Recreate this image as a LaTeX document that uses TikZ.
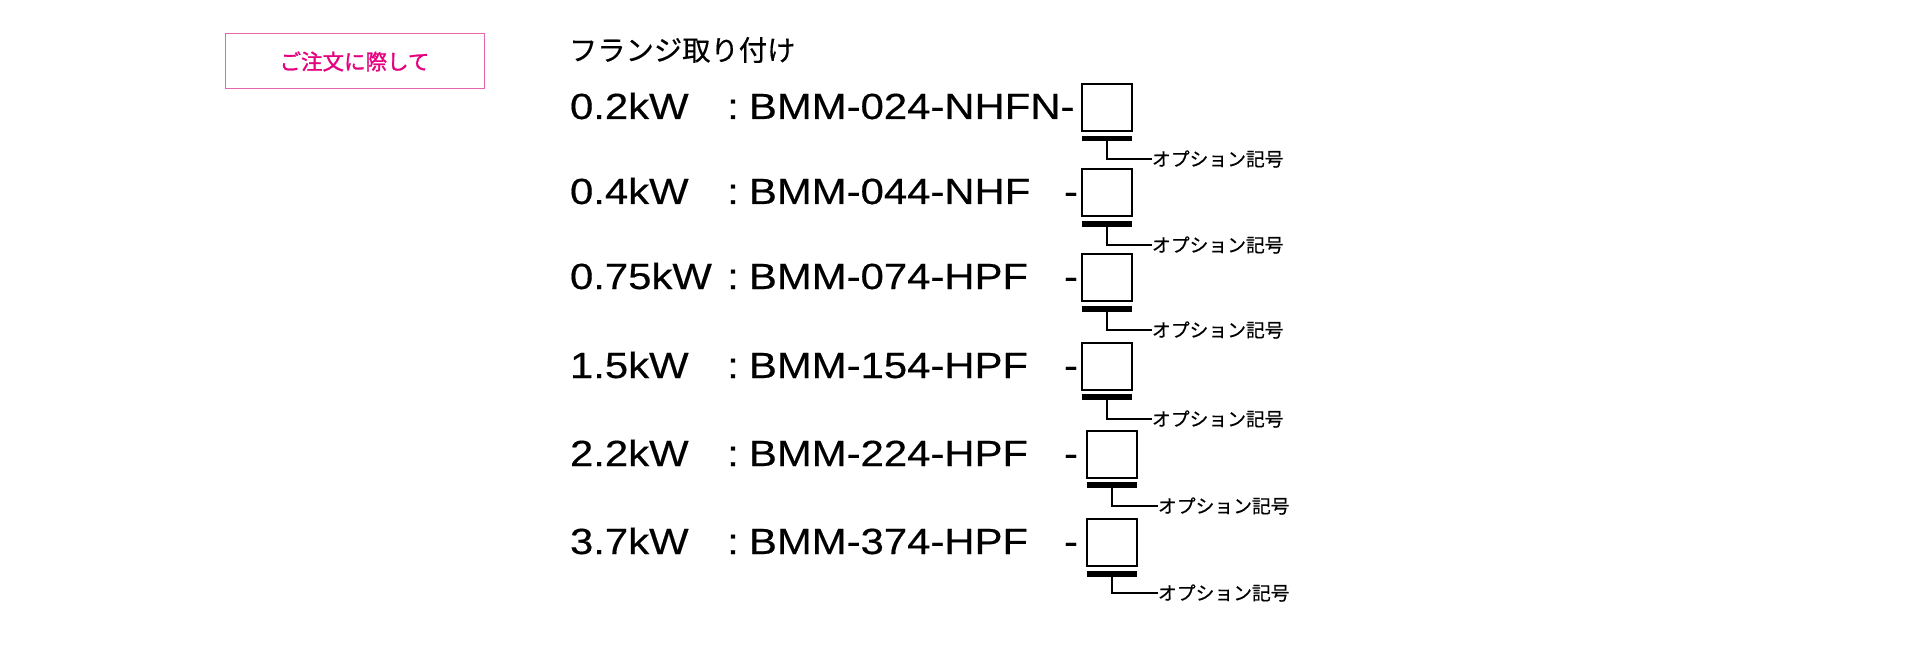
\documentclass[tikz,border=0pt]{standalone}
\usepackage{fontspec}
\setmainfont{Liberation Sans}
\newfontfamily\rowfont[FakeStretch=1.15,FakeBold=0.4]{Liberation Sans}
\newfontfamily\jpfont[FakeBold=0.4]{Noto Sans CJK JP}
\newfontfamily\jpbold[FakeBold=1.2]{Noto Sans CJK JP}
\definecolor{pinktext}{HTML}{E4007F}
\definecolor{pinkline}{HTML}{E565AE}
\begin{document}
\begin{tikzpicture}[x=1pt,y=-1pt,
  every node/.style={inner sep=0pt, outer sep=0pt},
  rowtext/.style={font=\rowfont\fontsize{36.4}{40}\selectfont, anchor=base west},
  coltext/.style={font=\rowfont\fontsize{36.4}{40}\selectfont, anchor=base},
  optbox/.style={draw, line width=1.5pt, minimum width=50pt, minimum height=47pt, anchor=north west},
  optbar/.style={fill=black, minimum width=50pt, minimum height=5.5pt, anchor=north west},
  optlabel/.style={font=\jpfont\fontsize{18.8}{20}\selectfont, anchor=west},
  leader/.style={line width=1.3pt}
]
\useasboundingbox (0,0) rectangle (1920,650);
\fill[white] (0,0) rectangle (1920,650);

% order box
\node[draw=pinkline, line width=1pt, minimum width=259pt, minimum height=55pt,
      font=\jpbold\fontsize{21.5}{24}\selectfont, text=pinktext] (order) at (354.5,61.5) {ご注文に際して};

% title
\node[anchor=west, font=\jpfont\fontsize{28.3}{30}\selectfont] (title) at (569,50) {フランジ取り付け};

% row 1
\node[rowtext] (kw1) at (570,119) {0.2kW};
\node[coltext] (c1) at (733,119) {:};
\node[rowtext] (m1) at (749,119) {BMM-024-NHFN-};
\node[optbox] (b1) at (1082,84) {};
\node[optbar] (r1) at (1082,136) {};
\node[optlabel] (l1) at (1152,159) {オプション記号};
\draw[leader] (r1.south) |- (l1.west);

% row 2
\node[rowtext] (kw2) at (570,204) {0.4kW};
\node[coltext] (c2) at (733,204) {:};
\node[rowtext] (m2) at (749,204) {BMM-044-NHF};
\node[coltext] (d2) at (1071,204) {-};
\node[optbox] (b2) at (1082,169) {};
\node[optbar] (r2) at (1082,221) {};
\node[optlabel] (l2) at (1152,245) {オプション記号};
\draw[leader] (r2.south) |- (l2.west);

% row 3
\node[rowtext] (kw3) at (570,289) {0.75kW};
\node[coltext] (c3) at (733,289) {:};
\node[rowtext] (m3) at (749,289) {BMM-074-HPF};
\node[coltext] (d3) at (1071,289) {-};
\node[optbox] (b3) at (1082,254) {};
\node[optbar] (r3) at (1082,306) {};
\node[optlabel] (l3) at (1152,330) {オプション記号};
\draw[leader] (r3.south) |- (l3.west);

% row 4
\node[rowtext] (kw4) at (570,378) {1.5kW};
\node[coltext] (c4) at (733,378) {:};
\node[rowtext] (m4) at (749,378) {BMM-154-HPF};
\node[coltext] (d4) at (1071,378) {-};
\node[optbox] (b4) at (1082,343) {};
\node[optbar] (r4) at (1082,394) {};
\node[optlabel] (l4) at (1152,419) {オプション記号};
\draw[leader] (r4.south) |- (l4.west);

% row 5
\node[rowtext] (kw5) at (570,466) {2.2kW};
\node[coltext] (c5) at (733,466) {:};
\node[rowtext] (m5) at (749,466) {BMM-224-HPF};
\node[coltext] (d5) at (1071,466) {-};
\node[optbox] (b5) at (1087,431) {};
\node[optbar] (r5) at (1087,482) {};
\node[optlabel] (l5) at (1158,506) {オプション記号};
\draw[leader] (r5.south) |- (l5.west);

% row 6
\node[rowtext] (kw6) at (570,554) {3.7kW};
\node[coltext] (c6) at (733,554) {:};
\node[rowtext] (m6) at (749,554) {BMM-374-HPF};
\node[coltext] (d6) at (1071,554) {-};
\node[optbox] (b6) at (1087,519) {};
\node[optbar] (r6) at (1087,571) {};
\node[optlabel] (l6) at (1158,593) {オプション記号};
\draw[leader] (r6.south) |- (l6.west);
\end{tikzpicture}
\end{document}
